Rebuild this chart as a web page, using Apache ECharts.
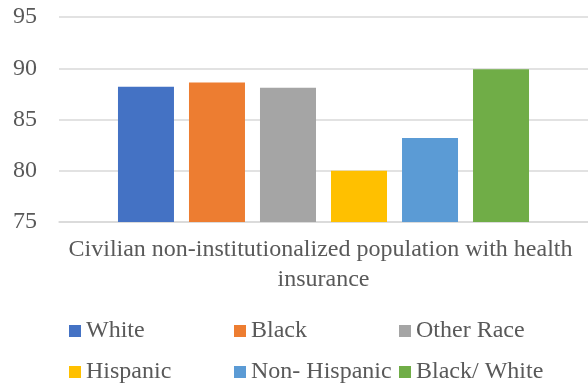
<!DOCTYPE html>
<html>
<head>
<meta charset="utf-8">
<script src="https://cdn.jsdelivr.net/npm/echarts@6/dist/echarts.min.js"></script>
<style>
  html, body { margin: 0; padding: 0; background: #fff; }
  #chart { width: 588px; height: 383px; }
</style>
</head>
<body>
<div id="chart"></div>
<script>
// Health insurance coverage (%) by group
const categories = ['Civilian non-institutionalized population with health insurance'];
const seriesNames = ['White', 'Black', 'Other Race', 'Hispanic', 'Non- Hispanic', 'Black/ White'];
const white = [88.2];
const black = [88.6];
const otherRace = [88.1];
const hispanic = [80.0];
const nonHispanic = [83.2];
const blackWhite = [89.9];
const yTicks = [75, 80, 85, 90, 95];

const seriesValues = [white, black, otherRace, hispanic, nonHispanic, blackWhite];
const colors = ['#4472C4', '#ED7D31', '#A5A5A5', '#FFC000', '#5B9BD5', '#70AD47'];

const FONT = '"Liberation Serif", "Times New Roman", serif';
const TEXT = '#595959';

const chart = echarts.init(document.getElementById('chart'), null, { renderer: 'canvas' });

const legendText = {
  color: TEXT, fontFamily: FONT, fontSize: 24, lineHeight: 24,
  width: 142, overflow: 'none'
};

chart.setOption({
  animation: false,
  color: colors,
  grid: { left: 59, right: -1, top: 17, bottom: 161, containLabel: false },
  legend: [
    {
      data: seriesNames.slice(0, 3), left: 69, top: 319, padding: 0,
      itemWidth: 12, itemHeight: 12, itemGap: 6, icon: 'rect',
      textStyle: legendText
    },
    {
      data: seriesNames.slice(3), left: 69, top: 360, padding: 0,
      itemWidth: 12, itemHeight: 12, itemGap: 6, icon: 'rect',
      textStyle: legendText
    }
  ],
  xAxis: {
    type: 'category',
    data: categories,
    axisLine: { show: true, lineStyle: { color: '#D9D9D9', width: 1.5 } },
    axisTick: { show: false },
    axisLabel: {
      color: TEXT, fontFamily: FONT, fontSize: 24, lineHeight: 30,
      margin: 13, width: 520, overflow: 'break', align: 'center'
    }
  },
  yAxis: {
    type: 'value',
    min: yTicks[0], max: yTicks[yTicks.length - 1], interval: 5,
    axisLine: { show: false },
    axisTick: { show: false },
    splitLine: { lineStyle: { color: '#D9D9D9', width: 1.5 } },
    axisLabel: {
      color: TEXT, fontFamily: FONT, fontSize: 24, margin: 22
    }
  },
  series: seriesNames.map((name, i) => ({
    name: name,
    type: 'bar',
    data: seriesValues[i],
    barWidth: 56,
    barGap: '26.8%'
  }))
});
</script>
</body>
</html>
